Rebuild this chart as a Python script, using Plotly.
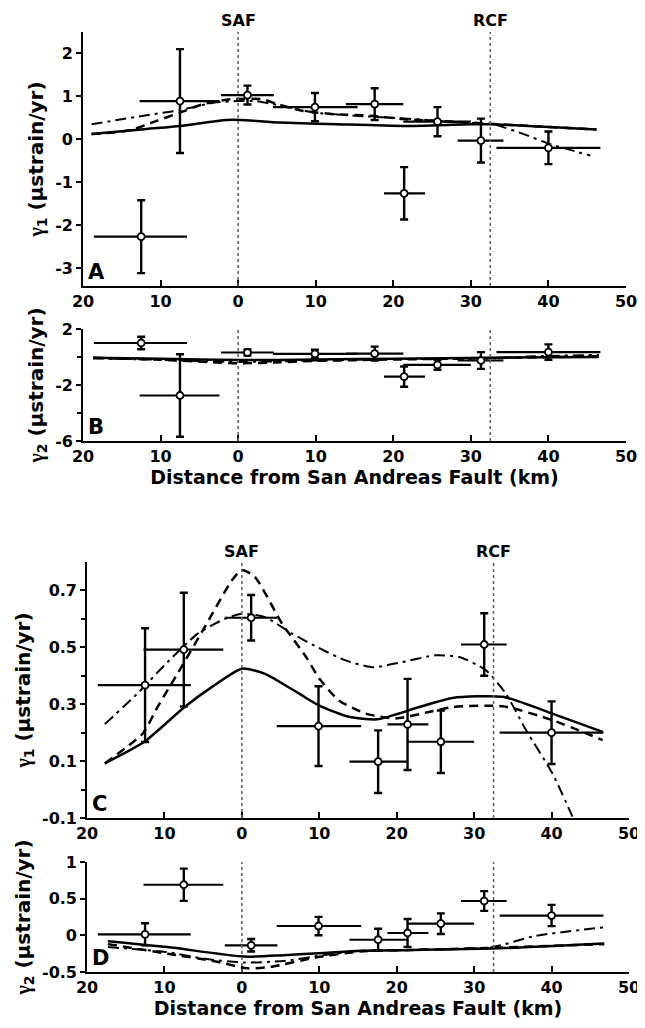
import plotly.graph_objects as go

# ---------------- data ----------------
# station bins: distance from SAF (km; negative = SW side)
st_x = [-12.5, -7.5, 1.2, 9.9, 17.6, 21.4, 25.7, 31.3, 40.0]
st_lo = [-18.6, -12.7, -2.2, 4.5, 13.9, 18.8, 21.3, 28.3, 33.3]
st_hi = [-6.6, -2.4, 4.6, 15.4, 21.3, 24.1, 30.0, 34.2, 46.7]

# Panel A: gamma1
a_y = [-2.27, 0.89, 1.03, 0.75, 0.82, -1.26, 0.41, -0.03, -0.20]
a_err = [0.85, 1.21, 0.22, 0.33, 0.37, 0.61, 0.34, 0.51, 0.38]
# Panel B: gamma2
b_y = [1.0, -2.75, 0.32, 0.22, 0.24, -1.40, -0.56, -0.25, 0.35]
b_err = [0.45, 2.95, 0.22, 0.30, 0.50, 0.72, 0.35, 0.60, 0.55]
# Panel C: gamma1
c_y = [0.367, 0.492, 0.604, 0.223, 0.098, 0.229, 0.168, 0.510, 0.200]
c_err = [0.20, 0.20, 0.08, 0.14, 0.11, 0.16, 0.11, 0.11, 0.11]
# Panel D: gamma2
d_y = [0.014, 0.69, -0.136, 0.127, -0.06, 0.032, 0.159, 0.468, 0.27]
d_err = [0.15, 0.22, 0.085, 0.125, 0.15, 0.19, 0.14, 0.135, 0.145]

# model curves
a_solid_x = [-18.9, -11.8, -7.5, -1.5, 0.3, 5.4, 12.7, 21.3, 29.9, 32.5, 46.2]
a_solid_y = [0.12, 0.24, 0.31, 0.45, 0.45, 0.39, 0.35, 0.31, 0.35, 0.35, 0.23]
a_dash_x = [-18.9, -13.9, -10.5, -7.5, -4.5, -1.0, 3.2, 5.0, 8.4, 12.7, 17.0, 21.3, 25.6, 29.9, 32.5, 46.2]
a_dash_y = [0.12, 0.21, 0.43, 0.62, 0.82, 0.93, 0.93, 0.82, 0.66, 0.58, 0.55, 0.47, 0.43, 0.39, 0.36, 0.23]
a_dd_x = [-18.9, -11.8, -7.5, -3.2, 0.0, 2.4, 4.5, 10.0, 15.0, 20.0, 25.0, 30.0, 32.9, 36.8, 40.2, 45.4]
a_dd_y = [0.35, 0.56, 0.68, 0.85, 0.89, 0.89, 0.82, 0.62, 0.55, 0.50, 0.44, 0.38, 0.35, 0.12, -0.11, -0.38]

b_solid_x = [-18.7, -10.0, 0.0, 10.0, 20.0, 32.5, 46.5]
b_solid_y = [-0.05, -0.12, -0.22, -0.18, -0.12, -0.05, 0.0]
b_dash_x = [-18.7, -10.0, -4.0, 0.0, 4.0, 10.0, 20.0, 32.5, 46.5]
b_dash_y = [-0.05, -0.2, -0.35, -0.45, -0.4, -0.28, -0.18, -0.08, 0.05]
b_dd_x = [-18.7, -10.0, 0.0, 10.0, 20.0, 32.5, 38.0, 46.5]
b_dd_y = [-0.1, -0.2, -0.35, -0.25, -0.15, -0.1, 0.05, 0.15]

c_solid_x = [-17.7, -12.6, -7.4, -3.9, 0.0, 3.0, 7.4, 10.0, 13.8, 17.5, 22.9, 27.2, 33.7, 40.1, 46.6]
c_solid_y = [0.092, 0.168, 0.29, 0.36, 0.425, 0.407, 0.337, 0.295, 0.256, 0.247, 0.29, 0.322, 0.326, 0.267, 0.203]
c_dash_x = [-17.7, -12.8, -10.9, -8.3, -4.8, -1.3, 0.0, 1.7, 5.2, 8.3, 10.0, 12.5, 16.0, 19.9, 24.2, 27.2, 33.7, 40.1, 46.6]
c_dash_y = [0.092, 0.197, 0.29, 0.408, 0.571, 0.735, 0.772, 0.747, 0.583, 0.466, 0.39, 0.314, 0.267, 0.25, 0.273, 0.29, 0.293, 0.244, 0.174]
c_dd_x = [-17.7, -13.5, -10.0, -5.7, -2.2, 0.0, 3.0, 6.5, 10.0, 13.4, 16.9, 20.7, 25.0, 28.1, 31.5, 34.1, 36.7, 40.1, 42.7]
c_dd_y = [0.23, 0.337, 0.437, 0.548, 0.6, 0.618, 0.606, 0.548, 0.497, 0.454, 0.43, 0.448, 0.472, 0.466, 0.42, 0.337, 0.209, 0.057, -0.095]

d_solid_x = [-17.3, -9.6, 0.3, 5.4, 10.6, 15.3, 21.8, 32.4, 46.8]
d_solid_y = [-0.08, -0.16, -0.29, -0.27, -0.24, -0.21, -0.2, -0.18, -0.11]
d_dash_x = [-17.3, -9.6, -3.2, 0.7, 3.7, 9.7, 15.3, 21.8, 32.4, 46.8]
d_dash_y = [-0.12, -0.25, -0.36, -0.45, -0.43, -0.3, -0.22, -0.2, -0.17, -0.12]
d_dd_x = [-17.3, -9.6, -4.8, 0.3, 5.4, 10.6, 15.4, 21.8, 32.4, 37.8, 46.8]
d_dd_y = [-0.16, -0.23, -0.32, -0.37, -0.35, -0.27, -0.21, -0.2, -0.16, -0.01, 0.11]

x_ticks = [-20, -10, 0, 10, 20, 30, 40, 50]
x_ticktext = ["20", "10", "0", "10", "20", "30", "40", "50"]
SAF_X = 0.0
RCF_X = 32.5

FONT = "DejaVu Sans"
GAMMA = "<span style=\"font-family:'Liberation Serif'\">γ</span>"
# the page body has an 8px margin: size the figure so it fits the 645x1028 window
OFF = 8
W, H = 645 - OFF, 1028 - OFF


def fx(px):
    return (px - OFF) / W


def fy(py):
    return 1 - (py - OFF) / H


DASH = "9px,6px"
DASHDOT = "11px,5px,3px,5px"

fig = go.Figure()

panels = [
    dict(ax="", y=a_y, e=a_err,
         curves=[(a_solid_x, a_solid_y, "solid"), (a_dash_x, a_dash_y, DASH), (a_dd_x, a_dd_y, DASHDOT)],
         yr=[-3.42, 2.5], tv=[-3, -2, -1, 0, 1, 2], tt=["-3", "-2", "-1", "0", "1", "2"], minor=None,
         title=GAMMA + "<sub>1</sub> (µstrain/yr)", letter="A", ypx=(32, 286), xpx=(83, 626), labels=True, xtitle=False),
    dict(ax="2", y=b_y, e=b_err,
         curves=[(b_solid_x, b_solid_y, "solid"), (b_dash_x, b_dash_y, DASH), (b_dd_x, b_dd_y, DASHDOT)],
         yr=[-6, 2], tv=[-6, -2, 2], tt=["-6", "-2", "2"], minor=[-4, 0],
         title=GAMMA + "<sub>2</sub> (µstrain/yr)", letter="B", ypx=(329, 441), xpx=(83, 626), labels=False, xtitle=True),
    dict(ax="3", y=c_y, e=c_err,
         curves=[(c_solid_x, c_solid_y, "solid"), (c_dash_x, c_dash_y, DASH), (c_dd_x, c_dd_y, DASHDOT)],
         yr=[-0.1, 0.8], tv=[-0.1, 0.1, 0.3, 0.5, 0.7], tt=["-0.1", "0.1", "0.3", "0.5", "0.7"],
         minor=[0.0, 0.2, 0.4, 0.6],
         title=GAMMA + "<sub>1</sub> (µstrain/yr)", letter="C", ypx=(562, 818), xpx=(87, 629), labels=True, xtitle=False),
    dict(ax="4", y=d_y, e=d_err,
         curves=[(d_solid_x, d_solid_y, "solid"), (d_dash_x, d_dash_y, DASH), (d_dd_x, d_dd_y, DASHDOT)],
         yr=[-0.5, 1.0], tv=[-0.5, 0, 0.5, 1], tt=["-0.5", "0", "0.5", "1"], minor=None,
         title=GAMMA + "<sub>2</sub> (µstrain/yr)", letter="D", ypx=(862, 972), xpx=(87, 629), labels=False, xtitle=True),
]

layout_axes = {}
annotations = []
shapes = []

for p in panels:
    xa = "x" + p["ax"]
    ya = "y" + p["ax"]
    for cx, cy, dash in p["curves"]:
        wdt = 2.0 if dash == DASHDOT else 2.5
        fig.add_trace(go.Scatter(x=cx, y=cy, mode="lines", xaxis=xa, yaxis=ya,
                                 line=dict(color="black", dash=dash, width=wdt, shape="spline", smoothing=0.6),
                                 showlegend=False, hoverinfo="skip"))
    plus = [h - x for h, x in zip(st_hi, st_x)]
    minus = [x - l for x, l in zip(st_x, st_lo)]
    fig.add_trace(go.Scatter(
        x=st_x, y=p["y"], mode="markers", xaxis=xa, yaxis=ya, showlegend=False,
        marker=dict(symbol="circle", size=7, color="white", line=dict(color="black", width=1.8)),
        error_x=dict(type="data", symmetric=False, array=plus, arrayminus=minus,
                     color="black", thickness=2.2, width=0),
        error_y=dict(type="data", array=p["e"], color="black", thickness=2.4, width=4),
    ))

    xname = "xaxis" + p["ax"]
    yname = "yaxis" + p["ax"]
    x0, x1 = p["xpx"]
    t, b = p["ypx"]
    xa_dict = dict(
        domain=[fx(x0), fx(x1)], anchor=ya, range=[-20, 50],
        tickmode="array", tickvals=x_ticks, ticktext=x_ticktext,
        ticks="inside", ticklen=6, tickwidth=1.5, tickcolor="black",
        showline=True, linecolor="black", linewidth=1.6, mirror=False,
        showgrid=False, zeroline=False, automargin=False, ticklabeloverflow="allow",
        tickfont=dict(family=FONT, size=16, color="black", weight="bold"),
    )
    if p["xtitle"]:
        xa_dict["title"] = dict(text="Distance from San Andreas Fault (km)",
                                font=dict(family=FONT, size=19, color="black", weight="bold"), standoff=4)
    layout_axes[xname] = xa_dict
    ya_dict = dict(
        domain=[fy(b), fy(t)], anchor=xa, range=p["yr"],
        tickmode="array", tickvals=p["tv"], ticktext=p["tt"],
        ticks="outside", ticklen=5, tickwidth=1.5, tickcolor="black",
        showline=True, linecolor="black", linewidth=1.6, mirror=False,
        showgrid=False, zeroline=False, automargin=False, ticklabeloverflow="allow",
        tickfont=dict(family=FONT, size=16, color="black", weight="bold"),
        title=dict(text=p["title"], font=dict(family=FONT, size=20, color="black", weight="bold"), standoff=6),
    )
    if p["minor"]:
        ya_dict["minor"] = dict(tickmode="array", tickvals=p["minor"], ticks="outside", ticklen=4,
                                tickwidth=1.5, tickcolor="black", showgrid=False)
    layout_axes[yname] = ya_dict

    # fault lines
    for fxv in (SAF_X, RCF_X):
        shapes.append(dict(type="line", xref=xa, yref=ya + " domain", x0=fxv, x1=fxv, y0=0, y1=1,
                           line=dict(color="#666666", width=1.6, dash="dot")))
    # panel letter
    annotations.append(dict(text="<b>%s</b>" % p["letter"], xref=xa + " domain", yref=ya + " domain",
                            x=0.006, y=0.0, xanchor="left", yanchor="bottom", showarrow=False,
                            font=dict(family=FONT, size=21, color="black")))
    if p["labels"]:
        for fxv, name in ((SAF_X, "SAF"), (RCF_X, "RCF")):
            annotations.append(dict(text="<b>%s</b>" % name, xref=xa, yref="paper",
                                    x=fxv, y=fy(t - 11), xanchor="center", yanchor="middle",
                                    showarrow=False, font=dict(family=FONT, size=16, color="black")))

fig.update_layout(
    width=W, height=H,
    margin=dict(l=0, r=0, t=0, b=0, autoexpand=False),
    paper_bgcolor="white", plot_bgcolor="white",
    showlegend=False,
    annotations=annotations, shapes=shapes,
    font=dict(family=FONT, color="black"),
    **layout_axes,
)

fig.write_html("out.html")
